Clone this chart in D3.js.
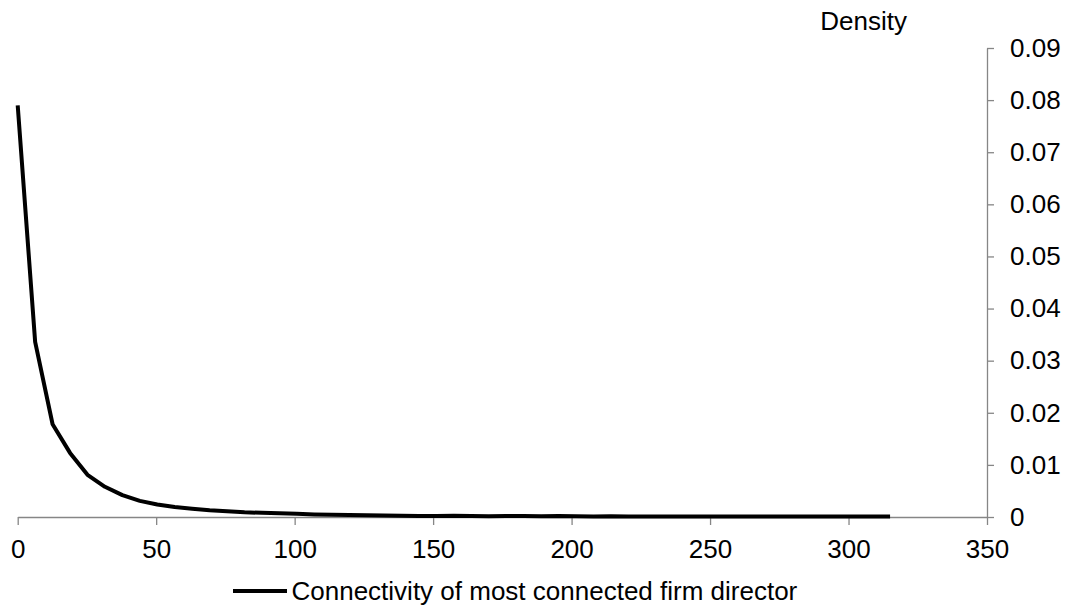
<!DOCTYPE html>
<html>
<head>
<meta charset="utf-8">
<script src="https://cdn.jsdelivr.net/npm/d3@7"></script>
<style>
  html, body { margin: 0; padding: 0; background: #fff; }
  svg { display: block; font-family: "Liberation Sans", Arial, sans-serif; }
</style>
</head>
<body>
<svg id="chart" width="1067" height="607"></svg>
<script>
// ---- data ----
const connectivity = [0, 6.3, 12.6, 18.9, 25.2, 31.5, 37.8, 44.1, 50.4, 56.7, 63, 69.3, 75.6, 81.9, 88.2, 94.5,
  100.8, 107.1, 113.4, 119.7, 126, 132.3, 138.6, 144.9, 151.2, 157.5, 163.8, 170.1, 176.4, 182.7, 189,
  195.3, 201.6, 207.9, 214.2, 220.5, 226.8, 233.1, 239.4, 245.7, 252, 258.3, 264.6, 270.9, 277.2, 283.5,
  289.8, 296.1, 302.4, 308.7, 315];
const density = [0.079, 0.0336, 0.0178, 0.0123, 0.0081, 0.0058, 0.0042, 0.0031, 0.0024, 0.0019, 0.0016, 0.0013,
  0.0011, 0.0009, 0.0008, 0.0007, 0.0006, 0.0005, 0.00045, 0.0004, 0.00035, 0.0003, 0.00025, 0.0002, 0.0002,
  0.00025, 0.0002, 0.00015, 0.0002, 0.0002, 0.00015, 0.0002, 0.00015, 0.0001, 0.00015, 0.0001, 0.0001,
  0.0001, 0.0001, 0.0001, 0.0001, 0.0001, 0.0001, 0.0001, 0.0001, 0.0001, 0.0001, 0.0001, 0.0001, 0.0001, 0.0001];
const xTicks = [0, 50, 100, 150, 200, 250, 300, 350];
const yTicks = [0, 0.01, 0.02, 0.03, 0.04, 0.05, 0.06, 0.07, 0.08, 0.09];
const yTitle = "Density";
const seriesName = "Connectivity of most connected firm director";

// ---- layout ----
const svg = d3.select("#chart");
const x = d3.scaleLinear().domain([0, 350]).range([17.7, 987]);
const y = d3.scaleLinear().domain([0, 0.09]).range([517, 48]);
const axisColor = "#868686";
const fontSize = 26;

// x axis
const xAxis = svg.append("g")
  .attr("transform", `translate(0,${y(0)})`)
  .call(d3.axisBottom(x).tickValues(xTicks).tickFormat(d3.format("d")).tickSize(8).tickSizeOuter(0).tickPadding(15));
xAxis.select(".domain").attr("stroke", axisColor).attr("stroke-width", 1.3);
xAxis.selectAll(".tick line").attr("stroke", axisColor).attr("stroke-width", 1.3);
xAxis.selectAll(".tick text").attr("fill", "#000").attr("font-size", fontSize)
  .attr("font-family", "Liberation Sans, Arial, sans-serif");

// y axis (right)
const yAxis = svg.append("g")
  .attr("transform", `translate(${x(350)},0)`)
  .call(d3.axisRight(y).tickValues(yTicks).tickFormat(d => d === 0 ? "0" : d3.format(".2f")(d)).tickSize(7).tickSizeOuter(0).tickPadding(16));
yAxis.select(".domain").attr("stroke", axisColor).attr("stroke-width", 1.3);
yAxis.selectAll(".tick line").attr("stroke", axisColor).attr("stroke-width", 1.3);
yAxis.selectAll(".tick text").attr("fill", "#000").attr("font-size", fontSize)
  .attr("font-family", "Liberation Sans, Arial, sans-serif");

// y title
svg.append("text")
  .attr("x", 907).attr("y", 30)
  .attr("text-anchor", "end")
  .attr("font-size", fontSize)
  .text(yTitle);

// line
const pts = connectivity.map((c, i) => [c, density[i]]);
svg.append("path")
  .datum(pts)
  .attr("fill", "none")
  .attr("stroke", "#000")
  .attr("stroke-width", 4)
  .attr("stroke-linejoin", "round")
  .attr("d", d3.line().x(d => x(d[0])).y(d => y(d[1])));

// legend
svg.append("line")
  .attr("x1", 233).attr("x2", 287).attr("y1", 591).attr("y2", 591)
  .attr("stroke", "#000").attr("stroke-width", 4);
svg.append("text")
  .attr("x", 291.5).attr("y", 600)
  .attr("font-size", fontSize)
  .text(seriesName);
</script>
</body>
</html>
